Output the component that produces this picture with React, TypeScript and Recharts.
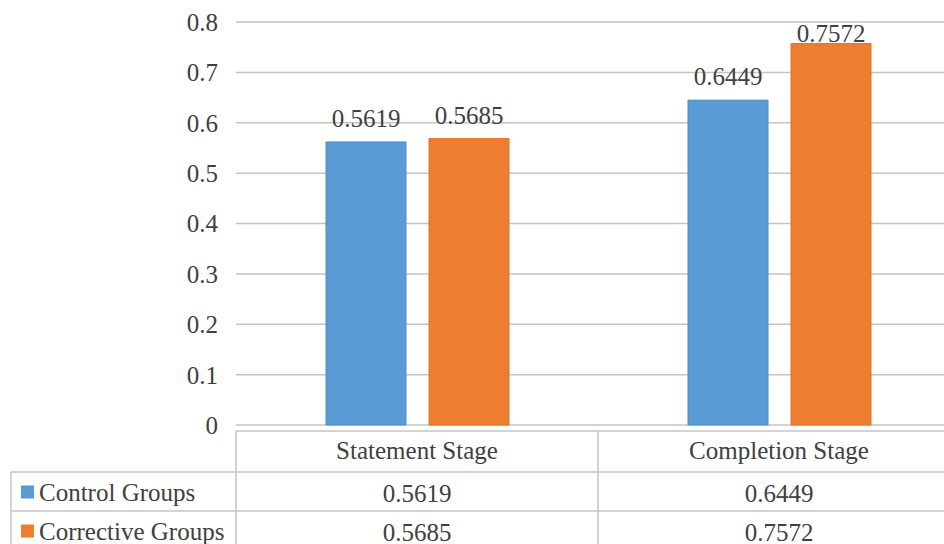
import { BarChart, Bar, XAxis, YAxis, CartesianGrid, LabelList } from 'recharts';

const stages = ['Statement Stage', 'Completion Stage'];
const seriesNames = ['Control Groups', 'Corrective Groups'];
const controlGroups = [0.5619, 0.6449];
const correctiveGroups = [0.5685, 0.7572];
const yTicks = [0, 0.1, 0.2, 0.3, 0.4, 0.5, 0.6, 0.7, 0.8];

const BLUE = '#5B9BD5';
const ORANGE = '#ED7D31';
const FONT = 'Liberation Serif, DejaVu Serif, serif';
const FS = 25;
const TEXT = '#404040';
const RULE = '#C4C4C4';

// plot geometry, shared by the chart and the data table under it
const CHART_W = 960;
const PLOT_LEFT = 236;
const PLOT_TOP = 22;
const PLOT_BOTTOM = 425;
const BAND = (CHART_W - PLOT_LEFT) / stages.length;

const textStyle = { fontFamily: FONT, fontSize: FS, fill: TEXT };

const data = stages.map((stage, i) => ({
  stage,
  control: controlGroups[i],
  corrective: correctiveGroups[i],
}));

const ValueLabel = (props: any) => {
  const { x, y, width, value } = props;
  // keep the label inside the plot when a bar runs close to the top
  const baseline = Math.max(Number(y) - 15, 42);
  return (
    <text x={Number(x) + Number(width) / 2} y={baseline} textAnchor="middle" style={textStyle}>
      {value}
    </text>
  );
};

function DataTable() {
  const rows = [
    { name: seriesNames[0], color: BLUE, values: controlGroups },
    { name: seriesNames[1], color: ORANGE, values: correctiveGroups },
  ];
  const headerTop = 431;
  const rowTops = [472, 511];
  const rowH = 39;
  return (
    <svg width={944} height={544} style={{ position: 'absolute', left: 0, top: 0 }}>
      <line x1={PLOT_LEFT} y1={headerTop} x2={944} y2={headerTop} stroke={RULE} strokeWidth={1.5} />
      {rowTops.map((t) => (
        <line key={t} x1={11} y1={t} x2={944} y2={t} stroke={RULE} strokeWidth={1.5} />
      ))}
      <line x1={11} y1={rowTops[0]} x2={11} y2={544} stroke={RULE} strokeWidth={1.5} />
      {stages.map((_, i) => (
        <line
          key={i}
          x1={PLOT_LEFT + BAND * i}
          y1={headerTop}
          x2={PLOT_LEFT + BAND * i}
          y2={544}
          stroke={RULE}
          strokeWidth={1.5}
        />
      ))}
      {stages.map((s, i) => (
        <text
          key={s}
          x={PLOT_LEFT + BAND * (i + 0.5)}
          y={(headerTop + rowTops[0]) / 2 + 7}
          textAnchor="middle"
          style={textStyle}
        >
          {s}
        </text>
      ))}
      {rows.map((r, ri) => {
        const cy = rowTops[ri] + rowH / 2;
        return (
          <g key={r.name}>
            <rect x={21} y={cy - 6} width={13} height={13} fill={r.color} />
            <text x={39} y={cy + 9} style={textStyle}>
              {r.name}
            </text>
            {r.values.map((v, ci) => (
              <text
                key={ci}
                x={PLOT_LEFT + BAND * (ci + 0.5)}
                y={cy + 10}
                textAnchor="middle"
                style={textStyle}
              >
                {v}
              </text>
            ))}
          </g>
        );
      })}
    </svg>
  );
}

export default function App() {
  return (
    <div
      style={{
        position: 'absolute',
        left: 0,
        top: 0,
        width: 944,
        height: 544,
        overflow: 'hidden',
        background: '#fff',
        fontFamily: FONT,
      }}
    >
      <BarChart
        width={CHART_W}
        height={544}
        data={data}
        margin={{ top: PLOT_TOP, right: 0, left: 0, bottom: 544 - PLOT_BOTTOM }}
        barSize={80}
        barGap={23}
      >
        <CartesianGrid vertical={false} stroke={RULE} strokeWidth={1.5} />
        <XAxis dataKey="stage" hide />
        <YAxis
          width={PLOT_LEFT}
          domain={[0, 0.8]}
          ticks={yTicks}
          axisLine={false}
          tickLine={false}
          tickSize={0}
          tickMargin={18}
          tick={{ style: textStyle }}
        />
        <Bar dataKey="control" name={seriesNames[0]} fill={BLUE} stroke="#4C8DCC" isAnimationActive={false}>
          <LabelList dataKey="control" content={ValueLabel} />
        </Bar>
        <Bar dataKey="corrective" name={seriesNames[1]} fill={ORANGE} stroke="#E07428" isAnimationActive={false}>
          <LabelList dataKey="corrective" content={ValueLabel} />
        </Bar>
      </BarChart>
      <DataTable />
    </div>
  );
}
